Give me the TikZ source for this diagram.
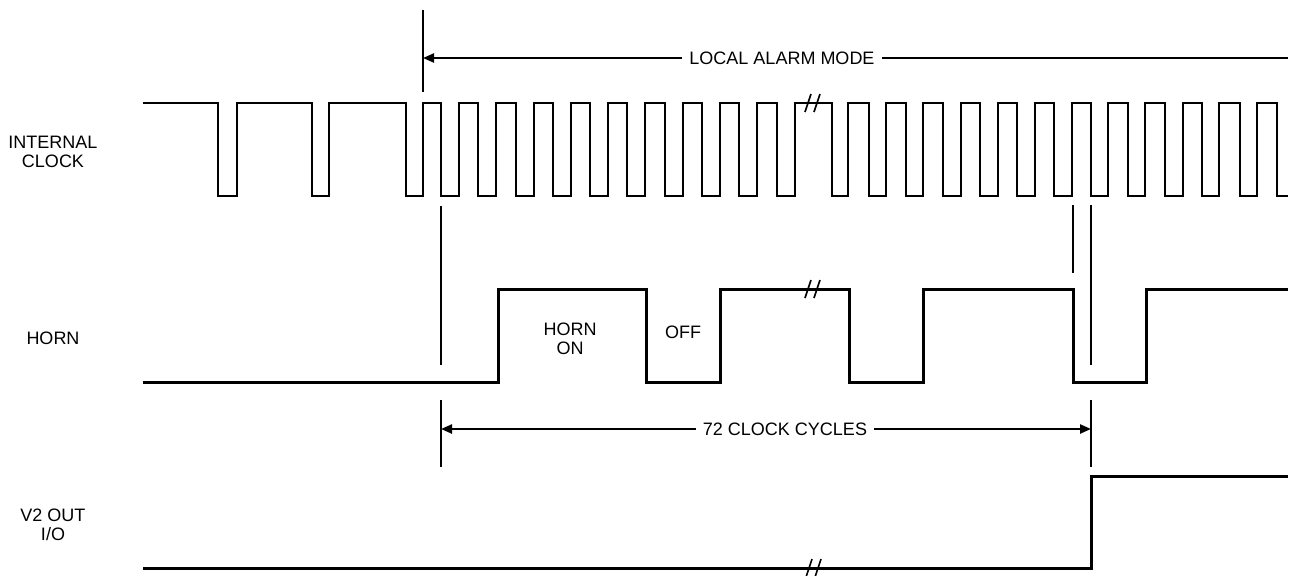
\documentclass[tikz,border=0pt]{standalone}
\usepackage{fontspec}
\setmainfont{Liberation Sans}
\usetikzlibrary{arrows.meta}
\begin{document}
\begin{tikzpicture}[x=1pt,y=-1pt,
  lbl/.style={font=\fontsize{18}{19}\selectfont, align=center, inner sep=0pt},
  clk/.style={line width=2.8pt, line join=miter},
  wave/.style={line width=3pt, line join=miter},
  refl/.style={line width=2pt},
  dim/.style={line width=2.3pt, -{Triangle[length=11pt,width=9pt]}},
  brk/.pic={\draw[line width=1.6pt] (-7,9) -- (-1,-9) (2,9) -- (8,-9);}]
\useasboundingbox (0,0) rectangle (1294,576);
% labels
\node[lbl] (lclk) at (53,152) {INTERNAL\\CLOCK};
\node[lbl] (lhorn) at (53,338) {HORN};
\node[lbl] (lv2) at (53,525) {V2 OUT\\I/O};
% clock
\draw[clk] (143,103) -- (218,103) -- (218,196) -- (237,196) -- (237,103)
  -- (312,103) -- (312,196) -- (329,196) -- (329,103)
  -- (406,103) -- (406,196) -- (423,196) -- (423,103)
  \foreach \f/\r in {441/459,478/496,516/534,553/571,590/608,627/645,665/683,702/720,739/757,777/795,
                     832/848,869/886,906/923,943/961,980/998,1017/1035,1054/1072,1091/1108,1128/1145,1165/1183,1202/1219,1240/1257}
  { -- (\f,103) -- (\f,196) -- (\r,196) -- (\r,103) }
  -- (1277,103) -- (1277,196) -- (1288,196);
\pic at (812,103) {brk};
% horn
\draw[wave] (143,382) -- (498,382) -- (498,289) -- (646,289) -- (646,382) -- (720,382)
  -- (720,289) -- (849,289) -- (849,382) -- (923,382) -- (923,289) -- (1073,289)
  -- (1073,382) -- (1146,382) -- (1146,289) -- (1288,289);
\pic at (812,289) {brk};
\node[lbl] (hon) at (570,339) {HORN\\ON};
\node[lbl] (hoff) at (683,332) {OFF};
% V2 out
\draw[wave] (143,568) -- (1091,568) -- (1091,476) -- (1288,476);
\pic at (813,568) {brk};
% reference lines
\coordinate (r1a) at (423,10);  \coordinate (r1b) at (423,92);
\coordinate (r2a) at (441,206); \coordinate (r2b) at (441,365);
\coordinate (r3a) at (441,400); \coordinate (r3b) at (441,467);
\coordinate (r4a) at (1073,205); \coordinate (r4b) at (1073,273);
\coordinate (r5a) at (1091,205); \coordinate (r5b) at (1091,365);
\coordinate (r6a) at (1091,400); \coordinate (r6b) at (1091,467);
\draw[refl] (r1a) -- (r1b) (r2a) -- (r2b) (r3a) -- (r3b)
  (r4a) -- (r4b) (r5a) -- (r5b) (r6a) -- (r6b);
% local alarm mode
\coordinate (lamL) at (423,58);
\coordinate (lamR) at (1288,58);
\draw[dim] (lamR) -- (lamL);
\node[lbl, fill=white, inner xsep=7pt, inner ysep=3pt] (lam) at (782,58) {LOCAL ALARM MODE};
% 72 clock cycles
\coordinate (ccL) at (441,429);
\coordinate (ccR) at (1091,429);
\coordinate (ccM) at (785,429);
\draw[dim] (ccM) -- (ccL);
\draw[dim] (ccM) -- (ccR);
\node[lbl, fill=white, inner xsep=7pt, inner ysep=3pt] (cc) at (ccM) {72 CLOCK CYCLES};
\end{tikzpicture}
\end{document}
